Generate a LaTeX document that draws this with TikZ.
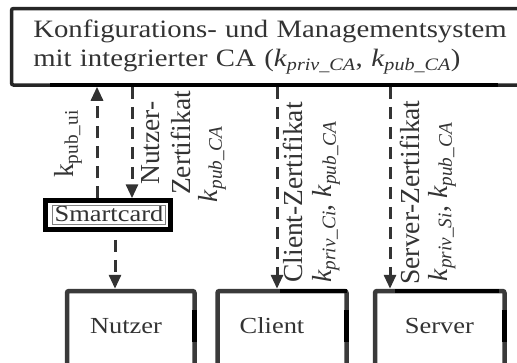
\documentclass[tikz,border=0pt]{standalone}
\usepackage{fontspec}
\setmainfont{Liberation Serif}
\newfontfamily\widefont[FakeStretch=1.15]{Liberation Serif}
\usetikzlibrary{arrows.meta,calc}
\definecolor{ink}{HTML}{333333}
\definecolor{edge}{HTML}{3A3A3A}
\begin{document}
\begin{tikzpicture}[x=1pt,y=-1pt,
  text=ink,
  sysbox/.style={draw=black!85, line width=3.5pt, rounded corners=2pt, inner sep=0pt,
    minimum width=528.5pt, minimum height=76.5pt, anchor=north west,
    text width=485pt, align=left, font=\widefont\fontsize{25}{29}\selectfont},
  entity/.style={draw=edge, line width=4.5pt, rounded corners=2pt, inner sep=0pt,
    minimum height=110pt, anchor=north},
  cardbox/.style={draw=black, line width=4.5pt, minimum width=125pt, minimum height=29pt,
    inner sep=0pt},
  flow/.style={draw=ink, line width=3pt, dash pattern=on 12pt off 8pt,
    -{Triangle[length=14pt,width=12pt]}},
  rlab/.style={rotate=90, inner sep=0pt, font=\fontsize{27.5}{31.5}\selectfont, align=center},
  blab/.style={inner sep=0pt, font=\widefont\fontsize{23}{26}\selectfont},
  hl/.style={draw=black, line width=5pt}
]
\clip (0,0) rectangle (517,362);
\fill[white] (0,0) rectangle (517,362);

% top system box
\node[sysbox] (sys) at (9.75,6.75)
  {Konfigurations- und Managementsystem\\
   mit integrierter CA (\textit{k}\textsubscript{\textit{priv\_CA}}, \textit{k}\textsubscript{\textit{pub\_CA}})};
\draw[hl, line width=3.5pt] (50,85) -- (498,85);

% smartcard
\node[cardbox] (sc) at (108,215) {};
\node[blab] (sct) at (109,213.5) {Smartcard};
\draw[gray, line width=1.2pt] ($(sc.north west)+(9.5,7.5)$) rectangle ($(sc.south east)+(-7.5,-7.5)$);

% entity boxes
\node[entity, minimum width=127.5pt] (nutzer) at (130.75,288.75) {};
\node[entity, minimum width=129pt] (client) at (282,288.75) {};
\node[entity, minimum width=129.5pt] (server) at (439.75,288.75) {};
\node[blab] (nutzert) at (126,326) {Nutzer};
\node[blab] (clientt) at (272,326) {Client};
\node[blab] (servert) at (439.5,326) {Server};
\draw[hl] (194.5,310) -- (194.5,342);
\draw[hl] (346.5,310) -- (346.5,342);
\draw[hl] (504.5,310) -- (504.5,342);
\draw[hl, line width=4.5pt] (280,291) -- (347,291);
\draw[hl, line width=4.5pt] (395,291) -- (499,291);

% connector x positions
\coordinate (xu) at (97,0);
\coordinate (xn) at (132,0);
\coordinate (xs) at (115,0);
\coordinate (xc) at (277,0);
\coordinate (xv) at (390,0);

\draw[flow] (sc.north -| xu) -- (sys.south -| xu);
\draw[flow] (sys.south -| xn) -- (sc.north -| xn);
\draw[flow, shorten <=8pt] (sc.south -| xs) -- (nutzer.north -| xs);
\draw[flow] (sys.south -| xc) -- (client.north -| xc);
\draw[flow] (sys.south -| xv) -- (server.north -| xv);

% labels
\node[rlab] (lku) at (68,144) {k\textsubscript{pub\_ui}};
\node[rlab] (lnz) at (166,143) {Nutzer-\\Zertifikat};
\node[rlab] (lnk) at (212,164) {\textit{k}\textsubscript{\textit{pub\_CA}}};
\node[rlab] (lcz) at (293,192.5) {Client-Zertifikat};
\node[rlab] (lck) at (326,202) {\textit{k}\textsubscript{\textit{priv\_Ci}}, \textit{k}\textsubscript{\textit{pub\_CA}}};
\node[rlab] (lsz) at (410,192.5) {Server-Zertifikat};
\node[rlab] (lsk) at (442,202) {\textit{k}\textsubscript{\textit{priv\_Si}}, \textit{k}\textsubscript{\textit{pub\_CA}}};
\end{tikzpicture}
\end{document}
